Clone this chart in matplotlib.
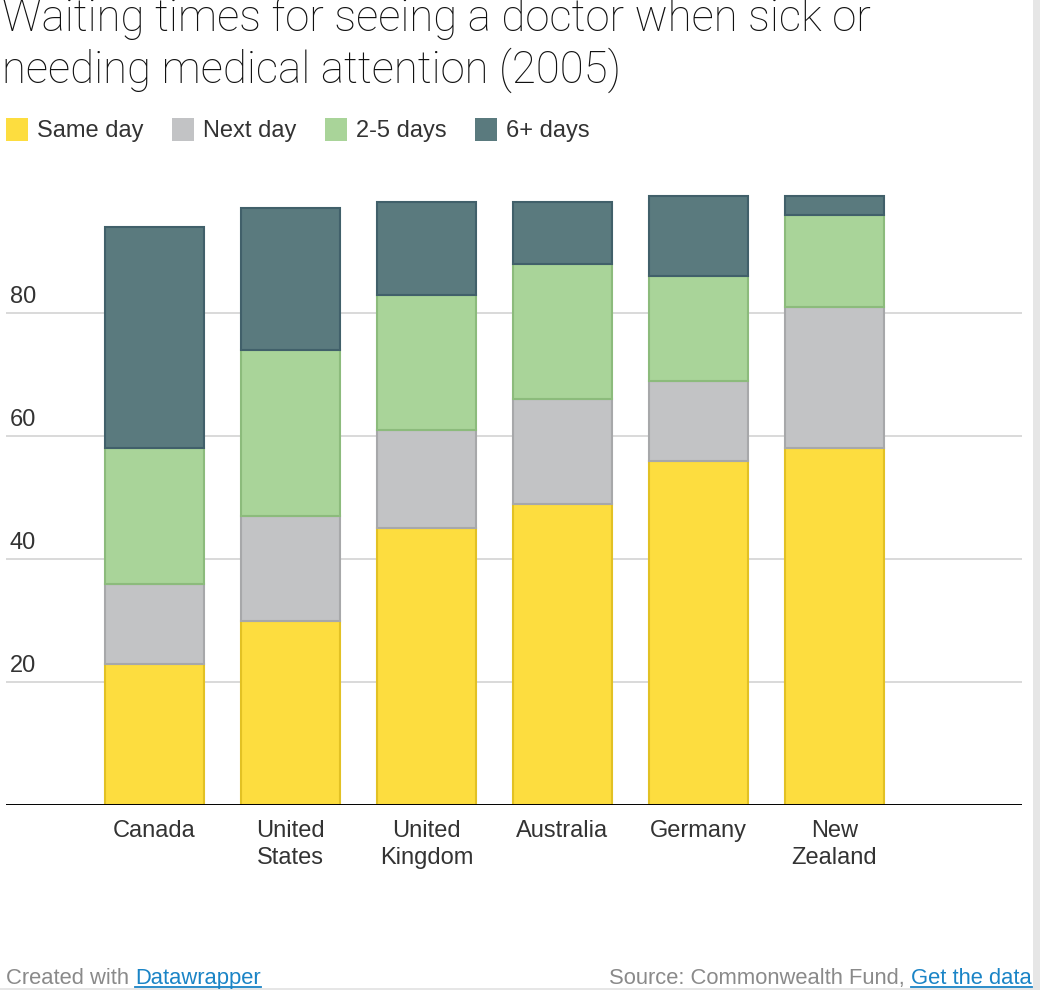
import matplotlib
matplotlib.use("Agg")
import matplotlib.pyplot as plt
from matplotlib.patches import Patch, Rectangle
from matplotlib.lines import Line2D
import numpy as np

# data (percent of respondents)
countries = ["Canada", "United\nStates", "United\nKingdom", "Australia", "Germany", "New\nZealand"]
series = ["Same day", "Next day", "2-5 days", "6+ days"]
same_day = [23, 30, 45, 49, 56, 58]
next_day = [13, 17, 16, 17, 13, 23]
days_2_5 = [22, 27, 22, 22, 17, 15]
days_6_plus = [36, 23, 15, 10, 13, 3]
yticks = [20, 40, 60, 80]

fills = ["#fddd3f", "#c2c3c5", "#a9d499", "#5a7a7e"]
edges = ["#e2c124", "#a7a8aa", "#8cbb7c", "#41606a"]

plt.rcParams['font.family'] = ['Liberation Sans', 'DejaVu Sans']

W, H = 1040, 990
fig = plt.figure(figsize=(W / 100, H / 100), dpi=100)
fig.patch.set_facecolor("white")

# plot area in pixels: x 6..1022, y 190..805 (from top)
ax = fig.add_axes([6 / W, (H - 805) / H, 1016 / W, 615 / H])
ax.set_facecolor("none")

x = np.arange(len(countries))
bottom = np.zeros(len(countries))
for vals, fc, ec in zip([same_day, next_day, days_2_5, days_6_plus], fills, edges):
    ax.bar(x, vals, width=0.728, bottom=bottom, color=fc, edgecolor=ec,
           linewidth=1.5, zorder=2)
    bottom += np.array(vals)

ax.set_xlim((6 - 154.5) / 136, (1022 - 154.5) / 136)
ax.set_ylim(0, 100)

for v in yticks:
    ax.axhline(v, color="#d9d9d9", linewidth=1.4, zorder=1)
    ax.annotate(str(v), xy=(4 / 1016, v), xycoords=("axes fraction", "data"),
                xytext=(0, 7), textcoords="offset points", ha="left", va="baseline",
                fontsize=17, color="#333333")
ax.axhline(0, color="black", linewidth=1.4, zorder=3)

ax.set_yticks([])
ax.set_xticks(x)
ax.set_xticklabels(countries, fontsize=17, color="#333333", linespacing=1.3)
ax.tick_params(axis="x", length=0, pad=11)
for s in ax.spines.values():
    s.set_visible(False)

# title (top of the first line is cut by the screenshot edge, as in the source)
fig.text(2 / W, 1 - 83 / H, "Waiting times for seeing a doctor when sick or\nneeding medical attention (2005)",
         ha="left", va="baseline", fontsize=31.5, color="#111111", linespacing=1.22,
         family=["Roboto", "Liberation Sans"], fontweight="light")

# legend
handles = [Patch(facecolor=c, edgecolor="none") for c in fills]
fig.legend(handles, series, loc="upper left", bbox_to_anchor=(6 / W, 1 - 118 / H),
           ncol=4, frameon=False, fontsize=17, handlelength=0.95, handleheight=1.1,
           handletextpad=0.35, columnspacing=1.22, borderpad=0, borderaxespad=0,
           labelcolor="#333333")

# footer
gray = "#8a8a8a"
blue = "#1a84c6"
fs = 15.8
t1 = fig.text(6 / W, 1 - 984 / H, "Created with ", ha="left", va="baseline",
              fontsize=fs, color=gray)
t2 = fig.text(1032 / W, 1 - 984 / H, "Get the data", ha="right", va="baseline",
              fontsize=fs, color=blue)
fig.canvas.draw()
r = fig.canvas.get_renderer()
b1 = t1.get_window_extent(r)
b2 = t2.get_window_extent(r)
t3 = fig.text(b1.x1 / W, 1 - 984 / H, "Datawrapper", ha="left", va="baseline",
              fontsize=fs, color=blue)
t4 = fig.text(b2.x0 / W, 1 - 984 / H, "Source: Commonwealth Fund, ", ha="right", va="baseline",
              fontsize=fs, color=gray)
fig.canvas.draw()
b3 = t3.get_window_extent(r)
for bb in (b3, b2):
    fig.add_artist(Line2D([bb.x0 / W, bb.x1 / W], [(H - 987) / H] * 2,
                          transform=fig.transFigure, color=blue, linewidth=1.3))

# grey strips at the right and bottom edges of the screenshot
fig.add_artist(Rectangle((1033 / W, 0), 7 / W, 1, transform=fig.transFigure,
                         facecolor="#e6e6e6", edgecolor="none"))
fig.add_artist(Rectangle((0, 0), 1, 2 / H, transform=fig.transFigure,
                         facecolor="#e6e6e6", edgecolor="none"))

fig.savefig("out.png", dpi=100)
